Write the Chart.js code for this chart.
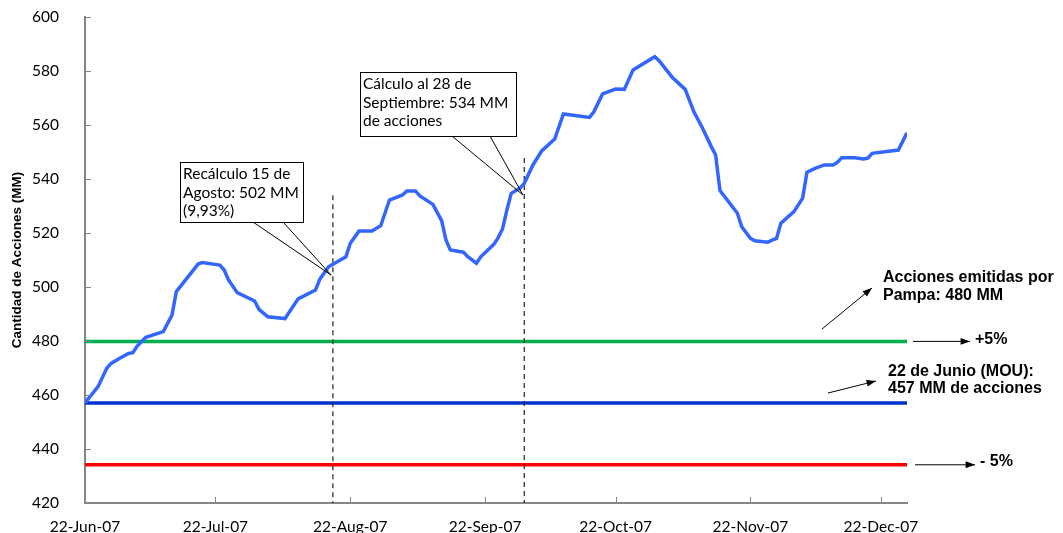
<!DOCTYPE html>
<html>
<head>
<meta charset="utf-8">
<script src="https://cdn.jsdelivr.net/npm/chart.js@4.4.1/dist/chart.umd.min.js"></script>
<style>
  html, body { margin: 0; padding: 0; background: #fff; }
</style>
</head>
<body>
<canvas id="chart" width="1063" height="533"></canvas>
<script>
// days counted from 22-Jun-07
const dayOffsets = [0, 3, 5, 6, 8, 10, 11, 12, 14, 18, 20, 21, 24, 26, 27, 31, 32, 33, 35, 39,
  40, 42, 46, 47, 49, 53, 54, 56, 60, 61, 63, 66, 68, 70, 73, 74, 76, 77, 80, 82,
  83, 84, 87, 88, 90, 91, 94, 95, 96, 97, 98, 100, 101, 103, 105, 108, 110, 116, 117, 119,
  122, 124, 126, 131, 132, 135, 138, 140, 142, 144, 145, 146, 150, 151, 153, 154, 157, 158, 159, 160,
  163, 165, 166, 168, 170, 172, 173, 174, 177, 179, 180, 181, 187, 189];
const shares = [457.1, 463.1, 469.9, 471.7, 473.6, 475.4, 475.7, 478.1, 481.4, 483.5, 489.6, 498.3, 504.4, 508.5, 509.1, 508.1, 506.3, 502.6, 497.9, 494.8,
  491.7, 489.0, 488.3, 490.8, 495.6, 498.9, 502.9, 507.5, 511.2, 516.2, 520.7, 520.7, 522.7, 532.2, 534.1, 535.6, 535.6, 533.7, 530.6, 524.6,
  517.4, 513.7, 512.9, 511.2, 508.8, 511.2, 515.8, 518.3, 521.5, 528.5, 534.7, 536.6, 538.4, 545.2, 550.4, 554.8, 564.1, 562.8, 564.9, 571.5,
  573.3, 573.2, 580.4, 585.3, 583.8, 577.7, 573.2, 564.9, 558.8, 552.0, 548.9, 535.7, 527.3, 522.3, 518.0, 517.1, 516.6, 517.4, 518.0, 523.6,
  527.9, 532.9, 542.5, 544.0, 545.2, 545.2, 546.2, 547.9, 547.9, 547.4, 547.7, 549.5, 550.7, 557.1];

const tickDays = [0, 30, 61, 92, 122, 153, 183];
const tickLabels = ['22-Jun-07', '22-Jul-07', '22-Aug-07', '22-Sep-07', '22-Oct-07', '22-Nov-07', '22-Dec-07'];

const mouLevel = 457;
const plusLevel = 479.85;
const minusLevel = 434.15;
const lastDay = 189;

const recalcDays = [57, 101];
const recalcTops = [534, 547.8];
const calloutTipDays = [56.6, 100.7];
const calloutTipValues = [504.4, 534.1];
const calloutTexts = [
  ['Recálculo 15 de', 'Agosto: 502 MM', '(9,93%)'],
  ['Cálculo al 28 de', 'Septiembre: 534 MM', 'de acciones']
];

function flat(level) {
  return [{ x: 0, y: level }, { x: lastDay, y: level }];
}

function arrow(ctx, x1, y1, x2, y2) {
  ctx.beginPath();
  ctx.moveTo(x1, y1);
  ctx.lineTo(x2, y2);
  ctx.stroke();
  const a = Math.atan2(y2 - y1, x2 - x1);
  ctx.beginPath();
  ctx.moveTo(x2, y2);
  ctx.lineTo(x2 - 10 * Math.cos(a - 0.35), y2 - 10 * Math.sin(a - 0.35));
  ctx.lineTo(x2 - 10 * Math.cos(a + 0.35), y2 - 10 * Math.sin(a + 0.35));
  ctx.closePath();
  ctx.fill();
}

const extras = {
  id: 'extras',
  afterDatasetsDraw(chart) {
    const ctx = chart.ctx;
    const xs = chart.scales.x, ys = chart.scales.y;
    const area = chart.chartArea;
    ctx.save();

    // inside tick marks
    ctx.strokeStyle = '#868686';
    ctx.lineWidth = 1;
    for (let v = 440; v <= 600; v += 20) {
      const y = Math.round(ys.getPixelForValue(v)) + 0.5;
      ctx.beginPath(); ctx.moveTo(area.left, y); ctx.lineTo(area.left + 6, y); ctx.stroke();
    }
    tickDays.slice(1).forEach(d => {
      const x = Math.round(xs.getPixelForValue(d)) + 0.5;
      ctx.beginPath(); ctx.moveTo(x, area.bottom); ctx.lineTo(x, area.bottom - 6); ctx.stroke();
    });

    // callouts
    const boxes = [
      { l: 180, t: 162, r: 303, b: 222, b1: 253, b2: 283 },
      { l: 360, t: 72, r: 516, b: 136, b1: 452, b2: 490 }
    ];
    ctx.font = '15.5px Lato';
    ctx.textBaseline = 'middle';
    boxes.forEach((bx, i) => {
      const tx = xs.getPixelForValue(calloutTipDays[i]);
      const ty = ys.getPixelForValue(calloutTipValues[i]);
      ctx.strokeStyle = '#000';
      ctx.lineWidth = 1;
      ctx.beginPath();
      ctx.moveTo(bx.b1, bx.b); ctx.lineTo(tx, ty); ctx.lineTo(bx.b2, bx.b);
      ctx.stroke();
      ctx.fillStyle = '#fff';
      ctx.fillRect(bx.l, bx.t, bx.r - bx.l, bx.b - bx.t);
      ctx.strokeRect(bx.l + 0.5, bx.t + 0.5, bx.r - bx.l, bx.b - bx.t);
      ctx.fillStyle = '#000';
      calloutTexts[i].forEach((line, j) => ctx.fillText(line, bx.l + 3, bx.t + 12 + j * 18.5));
    });

    // right-hand notes
    ctx.fillStyle = '#000';
    ctx.strokeStyle = '#000';
    ctx.lineWidth = 1;
    ctx.font = 'bold 16px "Liberation Sans", Arial';
    ctx.textBaseline = 'middle';
    ctx.fillText('Acciones emitidas por', 883, 278);
    ctx.fillText('Pampa: 480 MM', 883, 296);
    arrow(ctx, 822, 329, 872, 288);

    const yPlus = ys.getPixelForValue(plusLevel);
    arrow(ctx, 913, yPlus, 970, yPlus);
    ctx.fillText('+5%', 975, yPlus - 2);

    ctx.fillText('22 de Junio (MOU):', 888, 372);
    ctx.fillText('457 MM de acciones', 888, 389);
    arrow(ctx, 828, 393, 876, 381);

    const yMinus = ys.getPixelForValue(minusLevel);
    arrow(ctx, 915, yMinus, 975, yMinus);
    ctx.fillText('- 5%', 980, yMinus - 3);

    ctx.restore();
  }
};

new Chart(document.getElementById('chart').getContext('2d'), {
  type: 'line',
  data: {
    datasets: [
      {
        label: 'Cantidad de Acciones',
        data: dayOffsets.map((d, i) => ({ x: d, y: shares[i] })),
        borderColor: '#3366ff',
        borderWidth: 3.5,
        pointRadius: 0,
        tension: 0
      },
      {
        data: [{ x: recalcDays[0], y: recalcTops[0] }, { x: recalcDays[0], y: 420 }],
        borderColor: '#222',
        borderWidth: 1.2,
        borderDash: [5, 4],
        pointRadius: 0
      },
      {
        data: [{ x: recalcDays[1], y: recalcTops[1] }, { x: recalcDays[1], y: 420 }],
        borderColor: '#222',
        borderWidth: 1.2,
        borderDash: [5, 4],
        pointRadius: 0
      },
      { data: flat(plusLevel), borderColor: '#00b050', borderWidth: 3.5, pointRadius: 0 },
      { data: flat(mouLevel), borderColor: '#0033cc', borderWidth: 3.5, pointRadius: 0 },
      { data: flat(minusLevel), borderColor: '#ff0000', borderWidth: 3.5, pointRadius: 0 }
    ]
  },
  options: {
    responsive: false,
    animation: false,
    layout: { padding: { left: 0, right: 156, top: 17, bottom: 0 } },
    plugins: {
      legend: { display: false },
      tooltip: { enabled: false }
    },
    scales: {
      x: {
        type: 'linear',
        min: 0,
        max: lastDay,
        grid: { display: false },
        border: { color: '#868686', width: 2 },
        afterBuildTicks: scale => { scale.ticks = tickDays.map(v => ({ value: v })); },
        afterFit: scale => { scale.height = 30; },
        ticks: {
          autoSkip: false,
          maxRotation: 0,
          padding: 7,
          color: '#000',
          font: { family: 'Lato', size: 15.5 },
          callback: value => tickLabels[tickDays.indexOf(value)]
        }
      },
      y: {
        min: 420,
        max: 600,
        grid: { display: false },
        border: { color: '#868686', width: 2 },
        afterFit: scale => {
          scale.width = 85;
          scale.paddingTop = 0;
          scale.paddingBottom = 0;
        },
        ticks: {
          stepSize: 20,
          padding: 18,
          color: '#000',
          font: { family: 'Lato', size: 15.5 }
        },
        title: {
          display: true,
          text: 'Cantidad de Acciones (MM)',
          color: '#000',
          padding: { top: 9, bottom: 0 },
          font: { family: '"Liberation Sans", Arial', size: 13.5, weight: 'bold' }
        }
      }
    }
  },
  plugins: [extras]
});
</script>
</body>
</html>
